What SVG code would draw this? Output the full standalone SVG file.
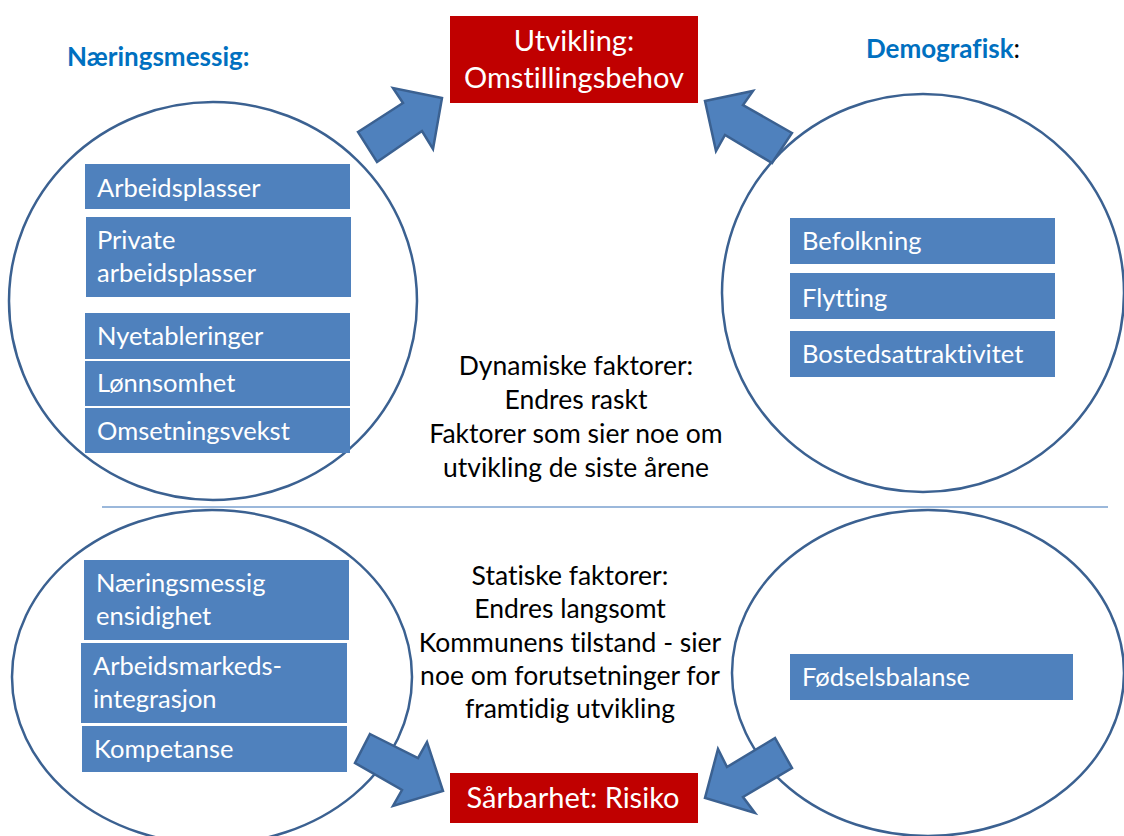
<svg xmlns="http://www.w3.org/2000/svg" width="1124" height="836" viewBox="0 0 1124 836">
<style>
  text { font-family: Lato, "Open Sans", "Liberation Sans", sans-serif; font-variant-ligatures: none; font-feature-settings: "liga" 0, "clig" 0, "dlig" 0; }
  .ring { fill: none; stroke: #3b6191; stroke-width: 2.5; }
  .box { fill: #4f81bd; }
  .bt { fill: #ffffff; font-size: 25.5px; }
  .red { fill: #c00000; }
  .rt { fill: #ffffff; font-size: 29px; text-anchor: middle; }
  .ct { fill: #000000; font-size: 26.5px; text-anchor: middle; }
  .title { fill: #0070c0; font-size: 26px; font-weight: bold; }
  .arrow { fill: #4f81bd; stroke: #3b6191; stroke-width: 2.5; stroke-linejoin: miter; }
</style>
<rect width="1124" height="836" fill="#ffffff"/>

<line x1="102" y1="507" x2="1108" y2="507" stroke="#7aa0cf" stroke-width="1.5"/>

<g id="circle-naering-dyn"><ellipse class="ring" cx="213" cy="301" rx="204" ry="199"/></g>
<g id="circle-demo-dyn"><ellipse class="ring" cx="923" cy="293" rx="201" ry="199"/></g>
<g id="circle-naering-stat"><ellipse class="ring" cx="212" cy="677" rx="200" ry="167"/></g>
<g id="circle-demo-stat"><ellipse class="ring" cx="928" cy="673" rx="196" ry="163"/></g>

<g id="title-naering"><text class="title" x="67" y="66">Næringsmessig:</text></g>
<g id="title-demo"><text class="title" x="866" y="58">Demografisk<tspan fill="#000000" font-weight="normal">:</tspan></text></g>

<g id="utvikling">
  <rect class="red" x="450" y="16" width="248" height="87"/>
  <text class="rt" x="574" y="51">Utvikling:</text>
  <text class="rt" x="574" y="88">Omstillingsbehov</text>
</g>
<g id="sarbarhet">
  <rect class="red" x="450" y="773" width="248" height="50"/>
  <text class="rt" x="573" y="808">Sårbarhet: Risiko</text>
</g>

<g id="arbeidsplasser"><rect class="box" x="85" y="164" width="265" height="45"/><text class="bt" x="97" y="197">Arbeidsplasser</text></g>
<g id="private-arbeidsplasser"><rect class="box" x="86" y="217" width="265" height="80"/><text class="bt" x="97" y="249">Private</text><text class="bt" x="97" y="282">arbeidsplasser</text></g>
<g id="nyetableringer"><rect class="box" x="85" y="313" width="265" height="46"/><text class="bt" x="97" y="345">Nyetableringer</text></g>
<g id="lonnsomhet"><rect class="box" x="85" y="361" width="265" height="45"/><text class="bt" x="97" y="392">Lønnsomhet</text></g>
<g id="omsetningsvekst"><rect class="box" x="85" y="408" width="265" height="45"/><text class="bt" x="97" y="440">Omsetningsvekst</text></g>

<g id="befolkning"><rect class="box" x="790" y="218" width="265" height="46"/><text class="bt" x="802" y="250">Befolkning</text></g>
<g id="flytting"><rect class="box" x="790" y="273" width="265" height="46"/><text class="bt" x="802" y="307">Flytting</text></g>
<g id="bostedsattraktivitet"><rect class="box" x="790" y="331" width="265" height="46"/><text class="bt" x="802" y="363">Bostedsattraktivitet</text></g>

<g id="naeringsmessig-ensidighet"><rect class="box" x="84" y="560" width="265" height="80"/><text class="bt" x="96" y="592">Næringsmessig</text><text class="bt" x="96" y="625">ensidighet</text></g>
<g id="arbeidsmarkedsintegrasjon"><rect class="box" x="81" y="643" width="266" height="80"/><text class="bt" x="93" y="675">Arbeidsmarkeds-</text><text class="bt" x="93" y="708">integrasjon</text></g>
<g id="kompetanse"><rect class="box" x="82" y="726" width="265" height="46"/><text class="bt" x="94" y="758">Kompetanse</text></g>

<g id="fodselsbalanse"><rect class="box" x="790" y="654" width="283" height="46"/><text class="bt" x="802" y="686">Fødselsbalanse</text></g>

<g id="dynamiske-tekst">
  <text class="ct" x="576" y="375">Dynamiske faktorer:</text>
  <text class="ct" x="576" y="409">Endres raskt</text>
  <text class="ct" x="576" y="443">Faktorer som sier noe om</text>
  <text class="ct" x="576" y="477">utvikling de siste årene</text>
</g>
<g id="statiske-tekst">
  <text class="ct" x="570" y="585">Statiske faktorer:</text>
  <text class="ct" x="570" y="618">Endres langsomt</text>
  <text class="ct" x="570" y="652">Kommunens tilstand - sier</text>
  <text class="ct" x="570" y="685">noe om forutsetninger for</text>
  <text class="ct" x="570" y="718">framtidig utvikling</text>
</g>

<g id="connectors">
  <polygon class="arrow" points="358,132 403,103 393,88 442,98 433,149 422,131 377,162"/>
  <polygon class="arrow" points="792,133 743,105 753,91 705,101 716,151 725,135 772,163"/>
  <polygon class="arrow" points="370,734 418,758 427,742 443,791 393,806 402,790 355,763"/>
  <polygon class="arrow" points="775,738 727,767 718,749 705,798 755,813 743,797 792,768"/>
</g>
</svg>
